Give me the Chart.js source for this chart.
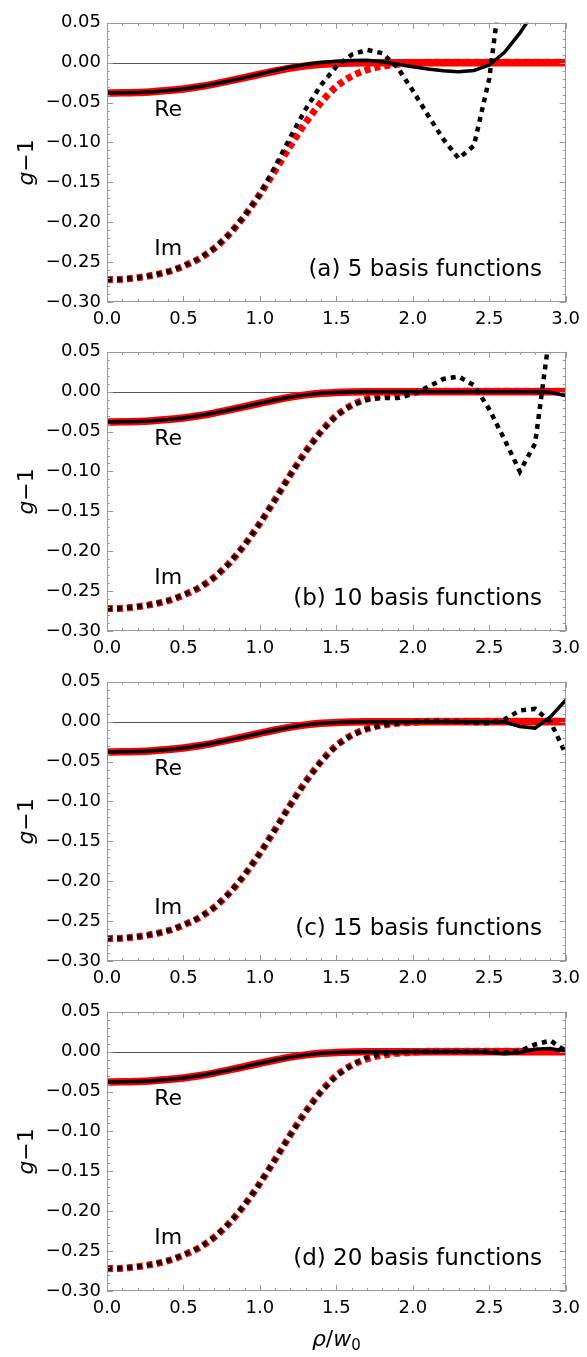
<!DOCTYPE html>
<html>
<head>
<meta charset="utf-8">
<script src="https://cdn.jsdelivr.net/npm/chart.js@4.4.1/dist/chart.umd.min.js"></script>
<style>
  html, body { margin: 0; padding: 0; background: #fff; }
  #wrap { position: relative; width: 587px; height: 1357px; }
  #wrap canvas { position: absolute; left: 0; }
</style>
</head>
<body>
<div id="wrap">
  <canvas id="panelA" width="587" height="326" style="top:6px"></canvas>
  <canvas id="panelB" width="587" height="326" style="top:335px"></canvas>
  <canvas id="panelC" width="587" height="326" style="top:665px"></canvas>
  <canvas id="panelD" width="587" height="362" style="top:995px"></canvas>
</div>
<script>
// radial coordinate rho/w0
const rho = [0.0, 0.1, 0.2, 0.3, 0.4, 0.5, 0.6, 0.7, 0.8, 0.9, 1.0,
             1.1, 1.2, 1.3, 1.4, 1.5, 1.6, 1.7, 1.8, 1.9, 2.0,
             2.1, 2.2, 2.3, 2.4, 2.5, 2.6, 2.7, 2.8, 2.9, 3.0];

// exact g-1 (red)
const exactRe = [-0.0380, -0.0378, -0.0373, -0.0364, -0.0350, -0.0330, -0.0302, -0.0268, -0.0229, -0.0187, -0.0145,
                 -0.0104, -0.0068, -0.0040, -0.0021, -0.0010, -0.0004, -0.0001, 0, 0, 0,
                 0, 0, 0, 0, 0, 0, 0, 0, 0, 0];
const exactIm = [-0.272, -0.2715, -0.2695, -0.2665, -0.262, -0.255, -0.246, -0.233, -0.215, -0.192, -0.165,
                 -0.135, -0.104, -0.075, -0.050, -0.030, -0.017, -0.009, -0.0045, -0.002, -0.0008,
                 0.0005, 0.0005, 0.0005, 0.0005, 0.0005, 0.0005, 0.0005, 0.0005, 0.0005, 0.0005];

// basis-function expansions (black), 5 / 10 / 15 / 20 functions
const re5 = [-0.0380, -0.0378, -0.0373, -0.0364, -0.0350, -0.0330, -0.0302, -0.0268, -0.0229, -0.0187, -0.0143,
             -0.0098, -0.0055, -0.0022, 0.0003, 0.0018, 0.0027, 0.0030, 0.0012, -0.0018, -0.0050,
             -0.0080, -0.0102, -0.0115, -0.0098, -0.0030, 0.0130, 0.0370, 0.0660, null, null];
const im5 = [-0.272, -0.2715, -0.2695, -0.2665, -0.262, -0.255, -0.246, -0.233, -0.215, -0.192, -0.165,
             -0.130, -0.093, -0.058, -0.028, -0.005, 0.010, 0.016, 0.012, -0.006, -0.035,
             -0.066, -0.096, -0.120, -0.104, -0.020, 0.130, null, null, null, null];

const re10 = [-0.0380, -0.0378, -0.0373, -0.0364, -0.0350, -0.0330, -0.0302, -0.0268, -0.0229, -0.0187, -0.0145,
              -0.0104, -0.0068, -0.0040, -0.0021, -0.0010, -0.0004, -0.0001, 0, 0, 0,
              0, 0, 0, 0, 0, 0, 0, 0, -0.0008, -0.0050];
const im10 = [-0.272, -0.2715, -0.2695, -0.2665, -0.262, -0.255, -0.246, -0.233, -0.215, -0.192, -0.165,
              -0.135, -0.104, -0.075, -0.050, -0.030, -0.017, -0.010, -0.008, -0.008, -0.003,
              0.006, 0.016, 0.019, 0.008, -0.022, -0.060, -0.100, -0.065, 0.080, null];

const re15 = [-0.0380, -0.0378, -0.0373, -0.0364, -0.0350, -0.0330, -0.0302, -0.0268, -0.0229, -0.0187, -0.0145,
              -0.0104, -0.0068, -0.0040, -0.0021, -0.0010, -0.0004, -0.0001, 0, 0, 0,
              0, 0, 0, 0, 0, -0.0005, -0.0060, -0.0080, 0.0060, 0.0270];
const im15 = [-0.272, -0.2715, -0.2695, -0.2665, -0.262, -0.255, -0.246, -0.233, -0.215, -0.192, -0.165,
              -0.135, -0.104, -0.075, -0.050, -0.030, -0.017, -0.009, -0.0045, -0.002, -0.0005,
              0.0008, 0.0010, 0.0000, -0.0015, -0.0020, 0.0030, 0.0140, 0.0160, 0.0000, -0.0400];

const re20 = [-0.0380, -0.0378, -0.0373, -0.0364, -0.0350, -0.0330, -0.0302, -0.0268, -0.0229, -0.0187, -0.0145,
              -0.0104, -0.0068, -0.0040, -0.0021, -0.0010, -0.0004, -0.0001, 0, 0, 0,
              0, 0, 0, 0, -0.0010, -0.0025, -0.0010, 0.0030, 0.0040, 0.0000];
const im20 = [-0.272, -0.2715, -0.2695, -0.2665, -0.262, -0.255, -0.246, -0.233, -0.215, -0.192, -0.165,
              -0.135, -0.104, -0.075, -0.050, -0.030, -0.017, -0.007, -0.003, -0.001, 0.0005,
              0.0005, 0.0005, 0.0005, 0.0005, 0.0005, -0.0010, 0.0010, 0.0090, 0.0140, 0.0010];

const yTicks = [-0.30, -0.25, -0.20, -0.15, -0.10, -0.05, 0.00, 0.05];
const xTicks = [0.0, 0.5, 1.0, 1.5, 2.0, 2.5, 3.0];

const panels = [
  { id: 'panelA', label: '(a) 5 basis functions',  re: re5,  im: im5 },
  { id: 'panelB', label: '(b) 10 basis functions', re: re10, im: im10 },
  { id: 'panelC', label: '(c) 15 basis functions', re: re15, im: im15 },
  { id: 'panelD', label: '(d) 20 basis functions', re: re20, im: im20, xTitle: true }
];

const FONT = '"DejaVu Sans", "Liberation Sans", sans-serif';

function pts(ys) {
  return rho.map((x, i) => ({ x: x, y: ys[i] }));
}

function fmtY(v) {
  const s = Math.abs(v) < 1e-9 ? '0.00' : v.toFixed(2);
  return s.replace('-', '\u2212');
}

// zero line, inward frame ticks and the text annotations
const framePlugin = {
  id: 'frame',
  beforeDatasetsDraw(chart) {
    const { ctx, chartArea: a, scales: { y } } = chart;
    const y0 = Math.round(y.getPixelForValue(0)) + 0.5;
    ctx.save();
    ctx.strokeStyle = '#555';
    ctx.lineWidth = 1;
    ctx.beginPath();
    ctx.moveTo(a.left, y0);
    ctx.lineTo(a.right, y0);
    ctx.stroke();
    ctx.restore();
  },
  afterDatasetsDraw(chart, args, opts) {
    const { ctx, chartArea: a, scales: { x, y } } = chart;
    ctx.save();
    ctx.strokeStyle = '#999';
    ctx.lineWidth = 1;
    ctx.strokeRect(Math.round(a.left) + 0.5, Math.round(a.top) + 0.5,
                   Math.round(a.right - a.left) - 1, Math.round(a.bottom - a.top) - 1);
    ctx.beginPath();
    for (let i = 0; i <= 30; i++) {
      const px = Math.round(x.getPixelForValue(i / 10)) + 0.5;
      const len = i % 5 === 0 ? 6 : 3;
      ctx.moveTo(px, a.bottom); ctx.lineTo(px, a.bottom - len);
      ctx.moveTo(px, a.top); ctx.lineTo(px, a.top + len);
    }
    for (let j = 0; j <= 35; j++) {
      const py = Math.round(y.getPixelForValue(-0.30 + j / 100)) + 0.5;
      const len = j % 5 === 0 ? 6 : 3;
      ctx.moveTo(a.left, py); ctx.lineTo(a.left + len, py);
      ctx.moveTo(a.right, py); ctx.lineTo(a.right - len, py);
    }
    ctx.stroke();

    ctx.fillStyle = '#000';
    ctx.textBaseline = 'middle';
    ctx.font = '22px ' + FONT;
    ctx.textAlign = 'center';
    ctx.fillText('Re', x.getPixelForValue(0.40), y.getPixelForValue(-0.060));
    ctx.fillText('Im', x.getPixelForValue(0.40), y.getPixelForValue(-0.234));
    ctx.font = '23px ' + FONT;
    ctx.textAlign = 'right';
    ctx.fillText(opts.label, x.getPixelForValue(2.845), y.getPixelForValue(-0.260));

    // y axis title g−1
    ctx.save();
    ctx.translate(27, (a.top + a.bottom) / 2);
    ctx.rotate(-Math.PI / 2);
    ctx.textAlign = 'left';
    ctx.font = 'italic 22px ' + FONT;
    const wg = ctx.measureText('g').width;
    ctx.font = '22px ' + FONT;
    const wr = ctx.measureText('\u22121').width;
    const start = -(wg + wr) / 2;
    ctx.font = 'italic 22px ' + FONT;
    ctx.fillText('g', start, 0);
    ctx.font = '22px ' + FONT;
    ctx.fillText('\u22121', start + wg, 0);
    ctx.restore();

    // x axis title rho/w0
    if (opts.xTitle) {
      const parts = [
        { t: '\u03c1', f: 'italic 22px ' + FONT, dy: 0 },
        { t: '/', f: '22px ' + FONT, dy: 0 },
        { t: 'w', f: 'italic 22px ' + FONT, dy: 0 },
        { t: '0', f: '15px ' + FONT, dy: 6 }
      ];
      let total = 0;
      parts.forEach(p => { ctx.font = p.f; p.w = ctx.measureText(p.t).width; total += p.w; });
      let cx = (a.left + a.right) / 2 - total / 2;
      const cy = a.bottom + 49;
      ctx.textAlign = 'left';
      parts.forEach(p => { ctx.font = p.f; ctx.fillText(p.t, cx, cy + p.dy); cx += p.w; });
    }
    ctx.restore();
  }
};

panels.forEach(p => {
  new Chart(document.getElementById(p.id), {
    type: 'line',
    data: {
      datasets: [
        { data: pts(p.re), borderColor: '#000', borderWidth: 3.5, tension: 0, order: 0 },
        { data: pts(p.im), borderColor: '#000', borderWidth: 4.5, borderDash: [5, 5], tension: 0, order: 0 },
        { data: pts(exactRe), borderColor: '#ff0000', borderWidth: 7.5, cubicInterpolationMode: 'monotone', order: 1 },
        { data: pts(exactIm), borderColor: '#ff0000', borderWidth: 7, borderDash: [6, 4], cubicInterpolationMode: 'monotone', order: 1 }
      ]
    },
    options: {
      responsive: false,
      animation: false,
      events: [],
      clip: 0,
      datasets: { line: { pointRadius: 0, fill: false, spanGaps: false, clip: 0 } },
      layout: { padding: { top: 12, right: 20, left: 0, bottom: 0 } },
      plugins: {
        legend: { display: false },
        tooltip: { enabled: false },
        frame: { label: p.label, xTitle: !!p.xTitle }
      },
      scales: {
        x: {
          type: 'linear',
          min: 0, max: 3,
          grid: { display: false, drawTicks: false },
          border: { display: false },
          afterBuildTicks: s => { s.ticks = xTicks.map(v => ({ value: v })); },
          afterFit: s => { s.height = p.xTitle ? 66 : 30; },
          ticks: {
            color: '#000', padding: 7, maxRotation: 0, autoSkip: false,
            font: { family: FONT, size: 18 },
            callback: v => v.toFixed(1)
          }
        },
        y: {
          type: 'linear',
          min: -0.30, max: 0.05,
          grid: { display: false, drawTicks: false },
          border: { display: false },
          afterBuildTicks: s => { s.ticks = yTicks.map(v => ({ value: v })); },
          afterFit: s => { s.width = 107; },
          ticks: {
            color: '#000', padding: 6, autoSkip: false,
            font: { family: FONT, size: 18 },
            callback: v => fmtY(v)
          }
        }
      }
    },
    plugins: [framePlugin]
  });
});
</script>
</body>
</html>
